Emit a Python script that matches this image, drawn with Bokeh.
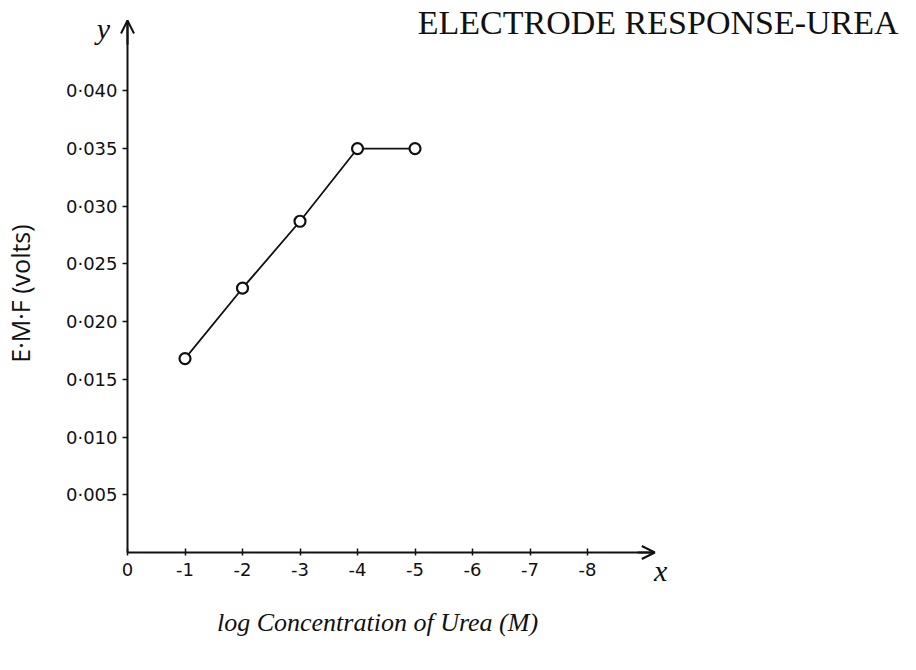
import math
from bokeh.plotting import figure
from bokeh.models import Range1d, FixedTicker, Label, Arrow, OpenHead
from bokeh.embed import file_html
from bokeh.resources import INLINE

# data
log_conc = [-1, -2, -3, -4, -5]
emf = [0.0168, 0.0229, 0.0287, 0.0350, 0.0350]

x_ticks = [0, -1, -2, -3, -4, -5, -6, -7, -8]
x_tick_labels = ["0", "-1", "-2", "-3", "-4", "-5", "-6", "-7", "-8"]
y_ticks = [0.005, 0.010, 0.015, 0.020, 0.025, 0.030, 0.035, 0.040]
y_tick_labels = ["0·005", "0·010", "0·015", "0·020", "0·025", "0·030", "0·035", "0·040"]

title_text = "ELECTRODE RESPONSE-UREA"
x_label = "log Concentration of Urea (M)"
y_label = "E·M·F (volts)"

X_END = -9.17
Y_END = 0.0461

p = figure(width=900, height=654, x_range=Range1d(2.2087, -13.443),
           y_range=Range1d(-0.00884, 0.04783),
           output_backend="svg", toolbar_location=None,
           min_border=0)
p.outline_line_color = None
p.xgrid.visible = False
p.ygrid.visible = False
p.background_fill_color = "white"
p.border_fill_color = "white"

for ax in (p.xaxis[0], p.yaxis[0]):
    ax.fixed_location = 0
    ax.axis_line_width = 2
    ax.axis_line_color = "#111111"
    ax.major_tick_line_color = "#111111"
    ax.major_tick_line_width = 1.5
    ax.minor_tick_line_color = None
    ax.major_label_text_font = "DejaVu Sans"
    ax.major_label_text_font_size = "18px"
    ax.major_label_text_color = "#111111"

p.xaxis.bounds = (X_END, 0)
p.xaxis.ticker = FixedTicker(ticks=x_ticks)
p.xaxis.major_label_overrides = {t: l for t, l in zip(x_ticks, x_tick_labels)}
p.xaxis.major_tick_in = 4
p.xaxis.major_tick_out = 3
p.xaxis.major_label_standoff = 8

p.yaxis.bounds = (0, Y_END)
p.yaxis.ticker = FixedTicker(ticks=y_ticks)
p.yaxis.major_label_overrides = {t: l for t, l in zip(y_ticks, y_tick_labels)}
p.yaxis.major_tick_in = 0
p.yaxis.major_tick_out = 5
p.yaxis.major_label_standoff = 5

p.line(log_conc, emf, line_color="#111111", line_width=1.8)
p.scatter(log_conc, emf, marker="circle", size=11, fill_color="white",
          line_color="#111111", line_width=2.2)

# axis arrows
p.add_layout(Arrow(x_start=0, y_start=0.0440, x_end=0, y_end=Y_END,
                   line_color="#111111", line_width=2,
                   end=OpenHead(size=13, line_width=2, line_color="#111111")))
p.add_layout(Arrow(x_start=X_END + 0.3, y_start=0, x_end=X_END, y_end=0,
                   line_color="#111111", line_width=2,
                   end=OpenHead(size=13, line_width=2, line_color="#111111")))

p.add_layout(Label(x=0.417, y=0.04541, text="y", text_font="Liberation Serif",
                   text_font_style="italic", text_font_size="30px", text_color="#111111",
                   text_align="center", text_baseline="middle"))
p.add_layout(Label(x=-9.27, y=-0.00156, text="x", text_font="Liberation Serif",
                   text_font_style="italic", text_font_size="30px", text_color="#111111",
                   text_align="center", text_baseline="middle"))
p.add_layout(Label(x=-4.348, y=-0.00607, text=x_label, text_font="Liberation Serif",
                   text_font_style="italic", text_font_size="26px", text_color="#111111",
                   text_align="center", text_baseline="middle"))
p.add_layout(Label(x=1.861, y=0.02244, text=y_label, text_font="Open Sans",
                   text_font_size="25px", text_color="#111111", angle=math.pi / 2,
                   text_align="center", text_baseline="middle"))
p.add_layout(Label(x=-13.409, y=0.04593, text=title_text, text_font="Liberation Serif",
                   text_font_size="34px", text_color="#111111",
                   text_align="right", text_baseline="middle"))

open("out.html", "w").write(file_html(p, INLINE))
